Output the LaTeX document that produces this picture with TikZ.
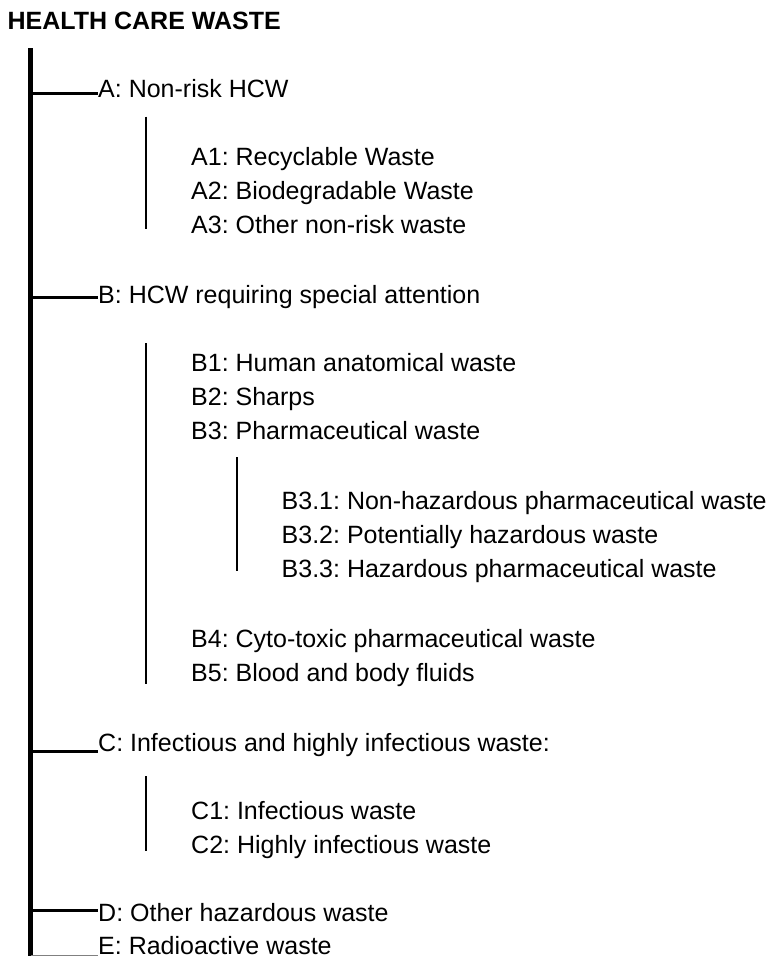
\documentclass[tikz,border=0pt]{standalone}
\usepackage{fontspec}
\setmainfont{Liberation Sans}
\usepackage{tikz}
\usetikzlibrary{positioning}
\frenchspacing

\begin{document}
\begin{tikzpicture}[x=1pt, y=-1pt,
    heading/.style={anchor=base west, inner sep=0pt, font=\fontsize{25}{30}\selectfont\bfseries},
    item/.style={anchor=base west, inner sep=0pt, font=\fontsize{25}{30}\selectfont},
    trunk/.style={line width=4.5pt},
    branch/.style={line width=3pt},
    bracket/.style={line width=2pt},
]
\useasboundingbox (0,0) rectangle (776,956);

% Title
\node[heading] (hcw) at (7.5,29) {HEALTH CARE WASTE};

% Main categories
\node[item] (A) at (98,97.5) {A: Non-risk HCW};
\node[item] (B) at (98,303.5) {B: HCW requiring special attention};
\node[item] (C) at (98,751.5) {C: Infectious and highly infectious waste:};
\node[item] (D) at (98,921.5) {D: Other hazardous waste};
\node[item] (E) at (98,954) {E: Radioactive waste};

% Sub-categories of A
\node[item] (A1) at (191,165.5) {A1: Recyclable Waste};
\node[item] (A2) at (191,199.5) {A2: Biodegradable Waste};
\node[item] (A3) at (191,233.5) {A3: Other non-risk waste};

% Sub-categories of B
\node[item] (B1) at (191,371.5) {B1: Human anatomical waste};
\node[item] (B2) at (191,405.5) {B2: Sharps};
\node[item] (B3) at (191,439.5) {B3: Pharmaceutical waste};
\node[item] (B31) at (281.5,509.5) {B3.1: Non-hazardous pharmaceutical waste};
\node[item] (B32) at (281.5,543.5) {B3.2: Potentially hazardous waste};
\node[item] (B33) at (281.5,577.5) {B3.3: Hazardous pharmaceutical waste};
\node[item] (B4) at (191,647.5) {B4: Cyto-toxic pharmaceutical waste};
\node[item] (B5) at (191,681.5) {B5: Blood and body fluids};

% Sub-categories of C
\node[item] (C1) at (191,819.5) {C1: Infectious waste};
\node[item] (C2) at (191,853.5) {C2: Highly infectious waste};

% Trunk
\coordinate (top) at (30.5,48);
\coordinate (bottom) at (30.5,956);
\draw[trunk] (top) -- (bottom);

% Branches to main categories
\foreach \n/\y in {A/93, B/297.5, C/751.5, D/910.7} {
    \coordinate (j\n) at (30.5,\y);
    \draw[branch] (j\n) -- (j\n -| \n.west);
}
\coordinate (jE) at (30.5,955);
\draw[gray, line width=1pt] (jE) -- (jE -| E.west);

% Side brackets of the sub-lists
\draw[bracket] (145.5,116.7) -- (145.5,229.3);
\draw[bracket] (145.5,343) -- (145.5,684);
\draw[bracket] (237.3,457) -- (237.3,571);
\draw[bracket] (145.5,776) -- (145.5,850.7);

\end{tikzpicture}
\end{document}
